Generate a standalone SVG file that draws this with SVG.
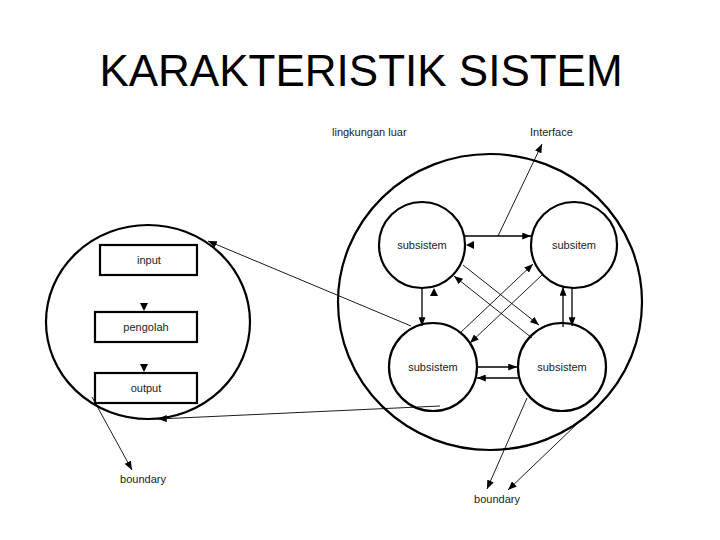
<svg xmlns="http://www.w3.org/2000/svg" width="720" height="540" viewBox="0 0 720 540">
<style>
.t{font-family:"Liberation Sans",Arial,sans-serif;fill:#000}
.lbl{font-size:11px;fill:#222}
.sys{fill:none;stroke:#000;stroke-width:2.2}
.box{fill:#fff;stroke:#000;stroke-width:2.2}
.c{fill:none;stroke:#000;stroke-width:1.3}
.th{fill:none;stroke:#000;stroke-width:0.9}
.head{fill:#000}
</style>
<defs>
<marker id="ah" viewBox="0 0 10 8" refX="10" refY="4" markerWidth="9" markerHeight="7" markerUnits="userSpaceOnUse" orient="auto">
<path d="M0,0 L10,4 L0,8 Z" fill="#000"/>
</marker>
</defs>
<rect width="720" height="540" fill="#fff"/>
<text class="t" x="361" y="86" font-size="44" text-anchor="middle">KARAKTERISTIK SISTEM</text>

<g id="left-system">
<ellipse class="sys" cx="148" cy="322" rx="102" ry="97"/>
</g>
<g id="input">
<rect class="box" x="100" y="245" width="97" height="30"/>
<text class="t lbl" x="149" y="264" text-anchor="middle">input</text>
</g>
<g id="pengolah">
<rect class="box" x="95" y="312" width="102" height="30"/>
<text class="t lbl" x="146" y="331" text-anchor="middle">pengolah</text>
</g>
<g id="output">
<rect class="box" x="95" y="373" width="102" height="30"/>
<text class="t lbl" x="146" y="392" text-anchor="middle">output</text>
</g>

<g id="right-system">
<ellipse class="sys" cx="490" cy="302" rx="152" ry="148"/>
</g>
<g id="sub-tl">
<circle class="sys" cx="422" cy="245" r="43"/>
<text class="t lbl" x="422" y="249" text-anchor="middle">subsistem</text>
</g>
<g id="sub-tr">
<circle class="sys" cx="574" cy="245" r="43"/>
<text class="t lbl" x="574" y="249" text-anchor="middle">subsitem</text>
</g>
<g id="sub-bl">
<circle class="sys" cx="433" cy="367" r="44"/>
<text class="t lbl" x="433" y="371" text-anchor="middle">subsistem</text>
</g>
<g id="sub-br">
<circle class="sys" cx="562" cy="367" r="44"/>
<text class="t lbl" x="562" y="371" text-anchor="middle">subsistem</text>
</g>

<g id="labels">
<text class="t lbl" x="332" y="136">lingkungan luar</text>
<text class="t lbl" x="530" y="136">Interface</text>
<text class="t lbl" x="143" y="483" text-anchor="middle">boundary</text>
<text class="t lbl" x="497" y="503" text-anchor="middle">boundary</text>
</g>

<g id="connectors">
<path class="head" d="M140,303 L148,303 L144,311 Z"/>
<path class="head" d="M140,364 L148,364 L144,372 Z"/>
<line class="c" x1="465" y1="236" x2="531" y2="236" marker-end="url(#ah)"/>
<path class="head" d="M466,245 L474,241 L474,249 Z"/>
<line class="c" x1="422" y1="288" x2="422" y2="326" marker-end="url(#ah)"/>
<path class="head" d="M434,288 L438,296 L430,296 Z"/>
<line class="c" x1="563" y1="327" x2="563" y2="287" marker-end="url(#ah)"/>
<line class="c" x1="572" y1="287" x2="572" y2="326" marker-end="url(#ah)"/>
<line class="c" x1="477" y1="367" x2="517" y2="367" marker-end="url(#ah)"/>
<line class="c" x1="518" y1="378" x2="477" y2="378" marker-end="url(#ah)"/>
<line class="th" x1="463" y1="265" x2="539" y2="325" marker-end="url(#ah)"/>
<line class="th" x1="532" y1="338" x2="454" y2="276" marker-end="url(#ah)"/>
<line class="th" x1="460" y1="333" x2="533" y2="264" marker-end="url(#ah)"/>
<line class="th" x1="542" y1="275" x2="470" y2="343" marker-end="url(#ah)"/>
<line class="th" x1="498" y1="236" x2="542" y2="144" marker-end="url(#ah)"/>
<line class="th" x1="411" y1="326" x2="208" y2="241" marker-end="url(#ah)"/>
<line class="th" x1="440" y1="406" x2="158" y2="419" marker-end="url(#ah)"/>
<line class="th" x1="92" y1="397" x2="132" y2="470" marker-end="url(#ah)"/>
<line class="th" x1="527" y1="398" x2="487" y2="489" marker-end="url(#ah)"/>
<line class="th" x1="578" y1="423" x2="508" y2="490" marker-end="url(#ah)"/>
</g>
</svg>
